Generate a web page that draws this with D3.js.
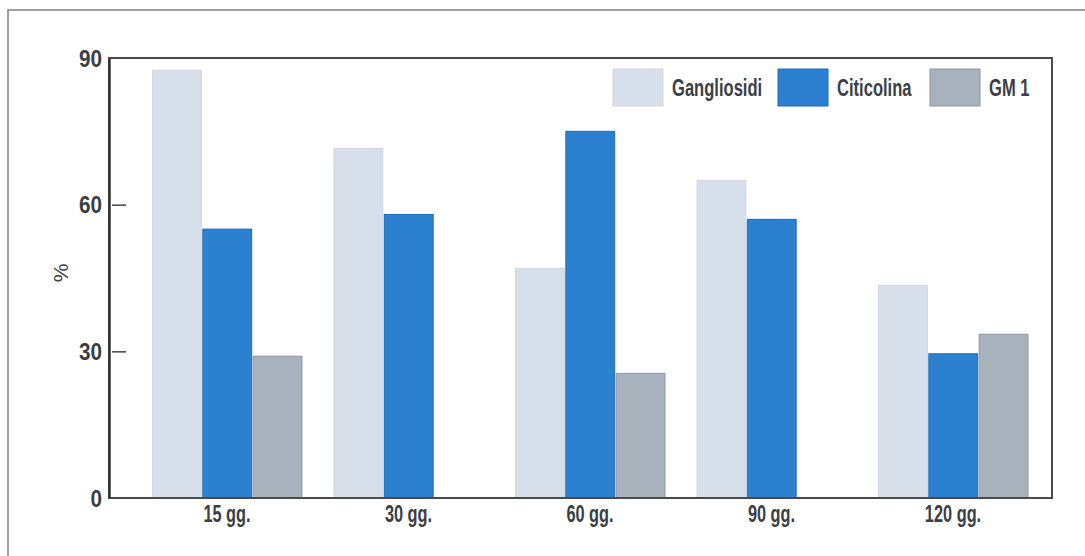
<!DOCTYPE html>
<html>
<head>
<meta charset="utf-8">
<script src="https://cdn.jsdelivr.net/npm/d3@7"></script>
<style>
  html, body { margin: 0; padding: 0; background: #fff; }
  svg { display: block; }
  text { font-family: "Liberation Sans", Arial, sans-serif; font-weight: bold; fill: #3b3f44; }
</style>
</head>
<body>
<svg id="chart" width="1085" height="556"></svg>
<script>
// Periods of observation
const categories = ["15 gg.", "30 gg.", "60 gg.", "90 gg.", "120 gg."];
// Series names
const seriesNames = ["Gangliosidi", "Citicolina", "GM 1"];
// Percent values per period (null = not measured)
const gangliosidi = [87.5, 71.5, 47, 65, 43.5];
const citicolina = [55, 58, 75, 57, 29.5];
const gm1 = [29, null, 25.5, null, 33.5];
// Y-axis ticks
const yTicks = [0, 30, 60, 90];

const seriesValues = [gangliosidi, citicolina, gm1];
const colors = ["#d7dfea", "#2c80d0", "#a8b2bd"];
const strokes = ["#cfd6e0", "#1f6bb5", "#8e98a3"];

// Condensed look: shrink each label horizontally by a factor
function squeeze(sel, f) {
  sel.each(function () {
    const w = this.getComputedTextLength();
    this.setAttribute("textLength", w * f);
    this.setAttribute("lengthAdjust", "spacingAndGlyphs");
  });
}

const svg = d3.select("#chart");

// Outer frame (left and top rules)
svg.append("path")
  .attr("d", "M8,556 L8,10 L1085,10")
  .attr("fill", "none").attr("stroke", "#808080").attr("stroke-width", 1.5);

const plotLeft = 109, plotRight = 1052, plotTop = 58, plotBottom = 498;

const y = d3.scaleLinear().domain([0, 90]).range([plotBottom, plotTop]);

const x0 = d3.scaleBand().domain(categories)
  .range([136.25, 1043.75]).paddingInner(0.1736).paddingOuter(0.0868);
const x1 = d3.scaleBand().domain(seriesNames).range([0, x0.bandwidth() + 1]).padding(0);

// Bars
const rows = categories.map((c, i) => ({
  cat: c,
  vals: seriesNames.map((s, k) => ({ s, k, v: seriesValues[k][i] })).filter(d => d.v != null)
}));

const groups = svg.append("g").selectAll("g").data(rows).join("g")
  .attr("transform", d => `translate(${x0(d.cat)},0)`);

groups.selectAll("rect").data(d => d.vals).join("rect")
  .attr("x", d => x1(d.s) + 0.5)
  .attr("y", d => y(d.v))
  .attr("width", x1.bandwidth() - 1.5)
  .attr("height", d => y(0) - y(d.v))
  .attr("fill", d => colors[d.k])
  .attr("stroke", d => strokes[d.k])
  .attr("stroke-width", 1);

// Plot frame
svg.append("rect")
  .attr("x", plotLeft).attr("y", plotTop)
  .attr("width", plotRight - plotLeft).attr("height", plotBottom - plotTop)
  .attr("fill", "none").attr("stroke", "#4a4a4a").attr("stroke-width", 2);

// Y axis
const yAxis = svg.append("g")
  .attr("transform", `translate(${plotLeft},0)`)
  .call(d3.axisLeft(y).tickValues(yTicks).tickSize(0).tickPadding(7).tickFormat(d3.format("d")));
yAxis.select(".domain").attr("stroke", "#333").attr("stroke-width", 2.5);
yAxis.selectAll(".tick text").style("font-size", "23px").attr("fill", "#3b3f44")
  .attr("dy", "0.36em").call(squeeze, 0.9);
yAxis.selectAll(".tick").filter(d => d > 0 && d < 90)
  .append("line").attr("x1", 3).attr("x2", 17)
  .attr("stroke", "#444").attr("stroke-width", 1.5);

// Y axis title
svg.append("text")
  .attr("transform", "translate(68,273) rotate(-90)")
  .attr("text-anchor", "middle")
  .style("font-size", "21px").style("font-weight", "normal").attr("fill", "#555")
  .text("%");

// X axis labels
const xAxis = svg.append("g")
  .attr("transform", `translate(0,${plotBottom})`)
  .call(d3.axisBottom(x0).tickSize(0).tickPadding(8));
xAxis.select(".domain").remove();
xAxis.selectAll(".tick text").style("font-size", "23px").attr("fill", "#3b3f44")
  .call(squeeze, 0.71);

// Legend
const legendX = [613, 778, 930];
const legend = svg.append("g").selectAll("g").data(seriesNames).join("g")
  .attr("transform", (d, i) => `translate(${legendX[i]},69)`);
legend.append("rect")
  .attr("width", 50).attr("height", 37)
  .attr("fill", (d, i) => colors[i]).attr("stroke", (d, i) => strokes[i]);
legend.append("text")
  .attr("x", 59).attr("y", 27)
  .style("font-size", "23px")
  .text(d => d)
  .call(squeeze, 0.72);
</script>
</body>
</html>
